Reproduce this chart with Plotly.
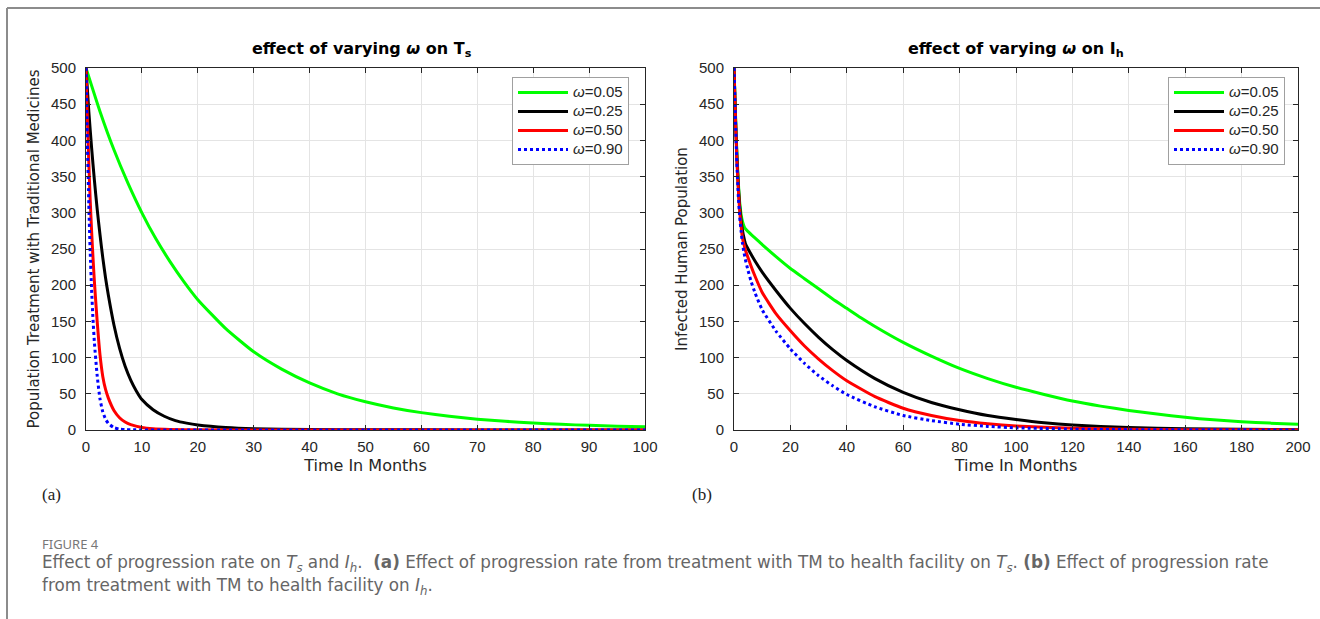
import plotly.graph_objects as go

# ---------------- data ----------------
omega_labels = ["<i>ω</i>=0.05", "<i>ω</i>=0.25", "<i>ω</i>=0.50", "<i>ω</i>=0.90"]
colors = ["#00ff00", "#000000", "#ff0000", "#0000ff"]
dashes = ["solid", "solid", "solid", "dot"]

# Panel (a): T_s vs time (months)
ts_t_005 = [0, 2.5, 5, 7.5, 10, 12.5, 15, 17.5, 20, 25, 30, 35, 40, 45, 50, 55, 60, 65, 70, 75, 80, 85, 90, 95, 100]
ts_v_005 = [500, 440, 387, 341, 300, 264, 233, 205, 180, 140, 108, 84, 65, 50, 39, 30.5, 24, 19, 15, 12, 9.5, 7.8, 6.4, 5.3, 4.5]

ts_t_025 = [0, 0.5, 1, 1.5, 2, 2.5, 3, 3.5, 4, 5, 6, 7, 8, 9, 10, 12, 14, 16, 18, 20, 25, 30, 40, 50, 60, 80, 100]
ts_v_025 = [500, 440, 390, 345, 305, 270, 238, 210, 186, 145, 113, 88, 69, 54, 42, 28, 19, 13, 9.5, 7, 3.5, 1.8, 0.7, 0.3, 0.2, 0.1, 0]

ts_t_050 = [0, 0.25, 0.5, 0.75, 1, 1.25, 1.5, 2, 2.5, 3, 3.5, 4, 5, 6, 7, 8, 10, 12, 15, 20, 30, 50, 100]
ts_v_050 = [500, 430, 370, 318, 275, 238, 205, 150, 104, 74, 56, 44, 27, 17, 11, 7.5, 3.5, 1.7, 0.7, 0.2, 0.1, 0, 0]

ts_t_090 = [0, 0.25, 0.5, 0.75, 1, 1.25, 1.5, 2, 2.5, 3, 3.5, 4, 5, 6, 7, 8, 10, 15, 20, 50, 100]
ts_v_090 = [500, 395, 312, 246, 194, 153, 121, 75, 43, 25, 15, 9, 3.2, 1.2, 0.5, 0.3, 0.1, 0, 0, 0, 0]

# Panel (b): I_h vs time (months)
ih_t_005 = [0, 0.5, 1, 1.5, 2, 2.5, 3, 3.5, 4, 5, 7.5, 10, 15, 20, 25, 30, 35, 40, 45, 50, 60, 70, 80, 90, 100,
            110, 120, 130, 140, 150, 160, 170, 180, 190, 200]
ih_v_005 = [500, 440, 385, 345, 315, 298, 288, 282, 278, 274, 265, 256, 239, 223, 209, 195, 181, 168, 155, 143, 121,
            102, 85, 71, 59, 49, 40, 33, 27, 22, 17.5, 14, 11.5, 9.5, 8]

ih_t_025 = [0, 0.5, 1, 1.5, 2, 2.5, 3, 3.5, 4, 5, 6, 7.5, 10, 15, 20, 25, 30, 35, 40, 50, 60, 70, 80, 90, 100,
            110, 120, 130, 140, 160, 180, 200]
ih_v_025 = [500, 435, 380, 340, 310, 290, 276, 266, 258, 250, 243, 233, 218, 192, 168, 147, 128, 111, 96, 71, 52,
            38, 28, 20, 14.5, 10, 7, 5, 3.5, 1.8, 0.9, 0.5]

ih_t_050 = [0, 0.5, 1, 1.5, 2, 2.5, 3, 3.5, 4, 5, 6, 7.5, 10, 15, 20, 25, 30, 35, 40, 50, 60, 70, 80, 90, 100,
            120, 140, 160, 200]
ih_v_050 = [500, 432, 375, 335, 303, 282, 265, 257, 249, 238, 227, 212, 190, 160, 137, 116, 98, 82, 68, 46, 30,
            20, 13, 8.5, 5.5, 2.5, 1.1, 0.5, 0.1]

ih_t_090 = [0, 0.5, 1, 1.5, 2, 2.5, 3, 3.5, 4, 5, 6, 7.5, 10, 15, 20, 25, 30, 35, 40, 50, 60, 70, 80, 90, 100,
            120, 140, 200]
ih_v_090 = [500, 430, 370, 325, 295, 275, 258, 246, 236, 220, 206, 189, 166, 136, 112, 92, 75, 61, 49, 32, 20,
            13, 8, 5, 3, 1.2, 0.5, 0.1]

left_x_ticks = [0, 10, 20, 30, 40, 50, 60, 70, 80, 90, 100]
right_x_ticks = [0, 20, 40, 60, 80, 100, 120, 140, 160, 180, 200]
y_ticks = [0, 50, 100, 150, 200, 250, 300, 350, 400, 450, 500]

# ---------------- figure ----------------
W, H = 1320, 619
FONT = "Liberation Sans, Arial, Helvetica, sans-serif"
WIDE = "DejaVu Sans, Verdana, sans-serif"
CAP = "Noto Sans, Open Sans, sans-serif"
TXT = "#262626"


def px(x):
    return x / W


def py(y):
    return 1 - y / H


fig = go.Figure()

left_sets = [(ts_t_005, ts_v_005), (ts_t_025, ts_v_025), (ts_t_050, ts_v_050), (ts_t_090, ts_v_090)]
right_sets = [(ih_t_005, ih_v_005), (ih_t_025, ih_v_025), (ih_t_050, ih_v_050), (ih_t_090, ih_v_090)]


def leg_name(s):
    return '<span style="font-size:15px">' + s + '</span>'


for i, (t, v) in enumerate(left_sets):
    fig.add_trace(go.Scatter(x=t, y=v, mode="lines", name=leg_name(omega_labels[i]),
                             line=dict(color=colors[i], width=3, dash=dashes[i], shape="spline", smoothing=0.5),
                             xaxis="x", yaxis="y", legend="legend"))
for i, (t, v) in enumerate(right_sets):
    fig.add_trace(go.Scatter(x=t, y=v, mode="lines", name=leg_name(omega_labels[i]),
                             line=dict(color=colors[i], width=3, dash=dashes[i], shape="spline", smoothing=0.5),
                             xaxis="x2", yaxis="y2", legend="legend2"))

ax_common = dict(
    showline=True, linecolor=TXT, linewidth=1, mirror="ticks",
    ticks="inside", ticklen=5, tickcolor=TXT, tickwidth=1,
    showgrid=True, gridcolor="#e4e4e4", gridwidth=1,
    zeroline=False,
    tickfont=dict(family=FONT, size=15, color=TXT),
)
x_title_font = dict(family=WIDE, size=16, color=TXT)
y_title_font = dict(family=WIDE, size=15, color=TXT)

y_top, y_bot = 68, 430

fig.update_layout(
    width=W, height=H,
    margin=dict(l=0, r=0, t=0, b=0, autoexpand=False),
    paper_bgcolor="white", plot_bgcolor="white",
    font=dict(family=FONT, color=TXT),
    xaxis=dict(domain=[px(86), px(645)], range=[0, 100], tickvals=left_x_ticks, ticklabelstandoff=3,
               title=dict(text="Time In Months", standoff=5, font=x_title_font), anchor="y", **ax_common),
    yaxis=dict(domain=[py(y_bot), py(y_top)], range=[0, 500], tickvals=y_ticks, ticklabelstandoff=6,
               title=dict(text="Population Treatment with Traditional Medicines", standoff=7, font=y_title_font),
               anchor="x", **ax_common),
    xaxis2=dict(domain=[px(734), px(1298)], range=[0, 200], tickvals=right_x_ticks, ticklabelstandoff=3,
                title=dict(text="Time In Months", standoff=5, font=x_title_font), anchor="y2", **ax_common),
    yaxis2=dict(domain=[py(y_bot), py(y_top)], range=[0, 500], tickvals=y_ticks, ticklabelstandoff=6,
                title=dict(text="Infected Human Population", standoff=7, font=y_title_font),
                anchor="x2", **ax_common),
    legend=dict(x=px(629), y=py(77), xanchor="right", yanchor="top",
                bgcolor="white", bordercolor="#a0a0a0", borderwidth=1,
                font=dict(family=FONT, size=11, color=TXT), itemwidth=50, tracegroupgap=0),
    legend2=dict(x=px(1285), y=py(77), xanchor="right", yanchor="top",
                 bgcolor="white", bordercolor="#a0a0a0", borderwidth=1,
                 font=dict(family=FONT, size=11, color=TXT), itemwidth=50, tracegroupgap=0),
    showlegend=True,
)

title_font = dict(family=WIDE, size=16, color="#000000")
caption_font = dict(family=WIDE, size=16.8, color="#666666")
caption_line1 = ("Effect of progression rate on <i>T<sub>s</sub></i> and <i>I<sub>h</sub></i>.  "
                 "<b>(a)</b> Effect of progression rate from treatment with TM to health facility on "
                 "<i>T<sub>s</sub></i>. <b>(b)</b> Effect of progression rate")
caption_line2 = "from treatment with TM to health facility on <i>I<sub>h</sub></i>."
annotations = [
    dict(text="<b>effect of varying <i>ω</i> on T<sub>s</sub></b>", x=px(362), y=py(49), font=title_font),
    dict(text="<b>effect of varying <i>ω</i> on I<sub>h</sub></b>", x=px(1016), y=py(49), font=title_font),
    dict(text="(a)", x=px(40), y=py(494), xanchor="left",
         font=dict(family="Liberation Serif, Times New Roman, serif", size=17, color="#222")),
    dict(text="(b)", x=px(690), y=py(494), xanchor="left",
         font=dict(family="Liberation Serif, Times New Roman, serif", size=17, color="#222")),
    dict(text="FIGURE 4", x=px(40), y=py(544), xanchor="left",
         font=dict(family=CAP, size=13, color="#777777")),
    dict(text=caption_line1, x=px(40), y=py(563), xanchor="left", font=caption_font),
    dict(text=caption_line2, x=px(40), y=py(586), xanchor="left", font=caption_font),
]
for a in annotations:
    a.update(xref="paper", yref="paper", showarrow=False, yanchor="middle")
    if "xanchor" not in a:
        a["xanchor"] = "center"
fig.update_layout(annotations=annotations)

# outer frame (top and left border lines of the figure panel)
fig.add_shape(type="line", xref="paper", yref="paper", x0=px(7), x1=1.0, y0=py(8), y1=py(8),
              line=dict(color="#8c8c8c", width=2))
fig.add_shape(type="line", xref="paper", yref="paper", x0=px(7), x1=px(7), y0=py(8), y1=0,
              line=dict(color="#8c8c8c", width=2))

fig.write_html("out.html", config={"displayModeBar": False},
               post_script="document.body.style.margin='0';document.body.style.overflow='hidden';")
